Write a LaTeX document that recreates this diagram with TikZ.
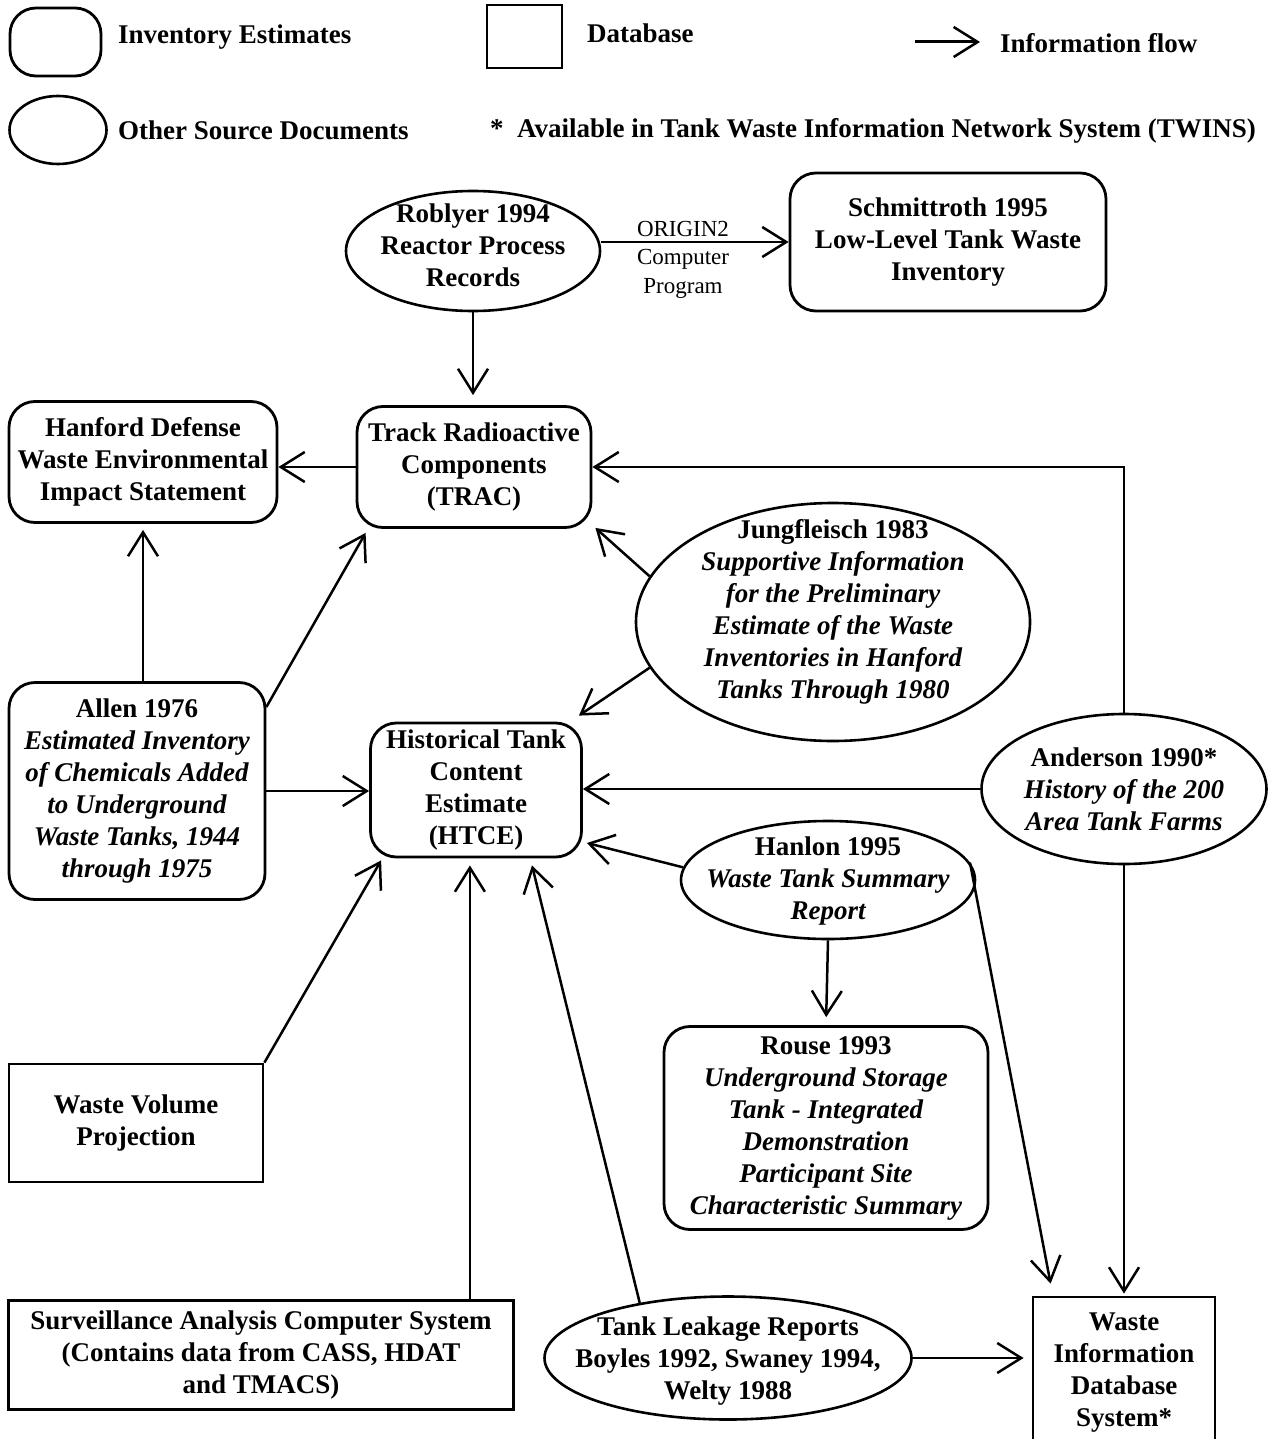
\documentclass[tikz,border=0pt]{standalone}
\usepackage{fontspec}
\setmainfont{Liberation Serif}
\usetikzlibrary{arrows.meta,shapes.geometric,calc}
\begin{document}
\begin{tikzpicture}[x=1pt,y=-1pt,
  every node/.style={font=\fontsize{27}{32}\selectfont\bfseries, align=center, inner sep=0pt},
  ibox/.style={draw, line width=2.8pt, rounded corners=26pt},
  dbox/.style={draw, line width=2.8pt},
  odoc/.style={draw, ellipse, line width=2.6pt},
  flow/.style={line width=2.5pt, -{Straight Barb[length=24pt,width=30pt,line width=2.5pt]}},
  lbl/.style={font=\fontsize{23}{29}\selectfont}
]
\useasboundingbox (0,0) rectangle (1271,1439);
\fill[white] (0,0) rectangle (1271,1439);

% legend
\node[ibox, minimum width=91pt, minimum height=68pt] (legIE) at (55.5,42) {};
\node[anchor=west] (legIEt) at (118,37) {Inventory Estimates};
\node[dbox, minimum width=75pt, minimum height=63pt] (legDB) at (524.5,36.5) {};
\node[anchor=west] (legDBt) at (587,33) {Database};
\coordinate (legA1) at (915,42);
\coordinate (legA2) at (980,42);
\draw[flow, line width=3pt] (legA1) -- (legA2);
\node[anchor=west] (legAt) at (1000,43) {Information flow};
\node[odoc, minimum width=97pt, minimum height=68pt] (legOS) at (58,130) {};
\node[anchor=west] (legOSt) at (118,130) {Other Source Documents};
\node[anchor=west] (twins) at (490,131) {*\enspace Available in Tank Waste Information Network System (TWINS)};

% main nodes
\node[odoc, minimum width=254pt, minimum height=120pt] (rob) at (473,251) {};
\node (robt) at (473,245) {Roblyer 1994\\Reactor Process\\Records};
\node[ibox, minimum width=316pt, minimum height=138pt] (sch) at (948,242) {Schmittroth 1995\\Low-Level Tank Waste\\Inventory};
\node[ibox, minimum width=234pt, minimum height=121pt] (trac) at (474,467) {Track Radioactive\\Components\\(TRAC)};
\node[ibox, minimum width=268pt, minimum height=121pt] (hde) at (143,462) {Hanford Defense\\Waste Environmental\\Impact Statement};
\node[ibox, minimum width=256pt, minimum height=217pt] (allen) at (137,791) {Allen 1976\\\itshape Estimated Inventory\\\itshape of Chemicals Added\\\itshape to Underground\\\itshape Waste Tanks, 1944\\\itshape through 1975};
\node[ibox, minimum width=211pt, minimum height=134pt] (htce) at (476,790) {Historical Tank\\Content\\Estimate\\(HTCE)};
\node[odoc, minimum width=394pt, minimum height=238pt] (jung) at (833,622) {};
\node (jungt) at (833,612) {Jungfleisch 1983\\\itshape Supportive Information\\\itshape for the Preliminary\\\itshape Estimate of the Waste\\\itshape Inventories in Hanford\\\itshape Tanks Through 1980};
\node[odoc, minimum width=285pt, minimum height=150pt] (and) at (1124,789) {};
\node (andt) at (1124,789) {Anderson 1990*\\\itshape History of the 200\\\itshape Area Tank Farms};
\node[odoc, minimum width=294pt, minimum height=118pt] (han) at (828,880) {};
\node (hant) at (828,881) {Hanlon 1995\\\itshape Waste Tank Summary\\\itshape Report};
\node[ibox, minimum width=324pt, minimum height=203pt] (rouse) at (826,1128) {Rouse 1993\\\itshape Underground Storage\\\itshape Tank - Integrated\\\itshape Demonstration\\\itshape Participant Site\\\itshape Characteristic Summary};
\node[dbox, minimum width=254pt, minimum height=118pt] (wvp) at (136,1123) {Waste Volume\\Projection};
\node[dbox, minimum width=505pt, minimum height=109pt] (sacs) at (261,1355) {Surveillance Analysis Computer System\\(Contains data from CASS, HDAT\\and TMACS)};
\node[odoc, minimum width=367pt, minimum height=123pt] (leak) at (728,1358) {};
\node (leakt) at (728,1361) {Tank Leakage Reports\\Boyles 1992, Swaney 1994,\\Welty 1988};
\node[dbox, minimum width=182pt, minimum height=152pt] (wids) at (1124,1373) {Waste\\Information\\Database\\System*};

% connectors
\draw[flow, shorten >=10pt] (rob.south) -- (rob.south |- trac.north);
\coordinate (robE) at ($(rob.east)+(0,-9)$);
\draw[flow] (robE) -- (robE -| sch.west);
\node[lbl] (orig) at (683,229) {ORIGIN2};
\node[lbl] (comp) at (683,274) {Computer\\Program};
\draw[flow] (trac.west) -- (trac.west -| hde.east);
\draw[flow, shorten >=6pt] (allen.north -| hde.south) -- (hde.south);
\draw[flow] (allen.33) -- ($(trac.south west)+(10,4)$);
\draw[flow] (allen.east) -- (allen.east -| htce.west);
\draw[flow] (jung.166) -- ($(trac.south east)+(3,-1)$);
\draw[flow] (jung.194) -- ($(htce.north east)+(-4,-6)$);
\draw[flow] (and.north) |- (trac.east);
\draw[flow] (and.west) -- (and.west -| htce.east);
\draw[flow, shorten >=2pt] (and.south) -- (and.south |- wids.north);
\draw[flow] (han.175) -- ($(htce.east)+(4,53)$);
\draw[flow, shorten >=8pt] (han.south) -- (rouse.north);
\draw[flow] (han.7) -- ($(wids.north west)+(19,-12)$);
\draw[flow] (wvp.north east) -- ($(htce.south west)+(12,2)$);
\coordinate (sacsTop) at ($(sacs.north east)+(-45,0)$);
\draw[flow, shorten >=7pt] (sacsTop) -- (sacsTop |- htce.south);
\draw[flow] (leak.148) -- ($(htce.south)+(56,7)$);
\draw[flow, shorten >=8pt] (leak.east) -- (leak.east -| wids.west);
\end{tikzpicture}
\end{document}
